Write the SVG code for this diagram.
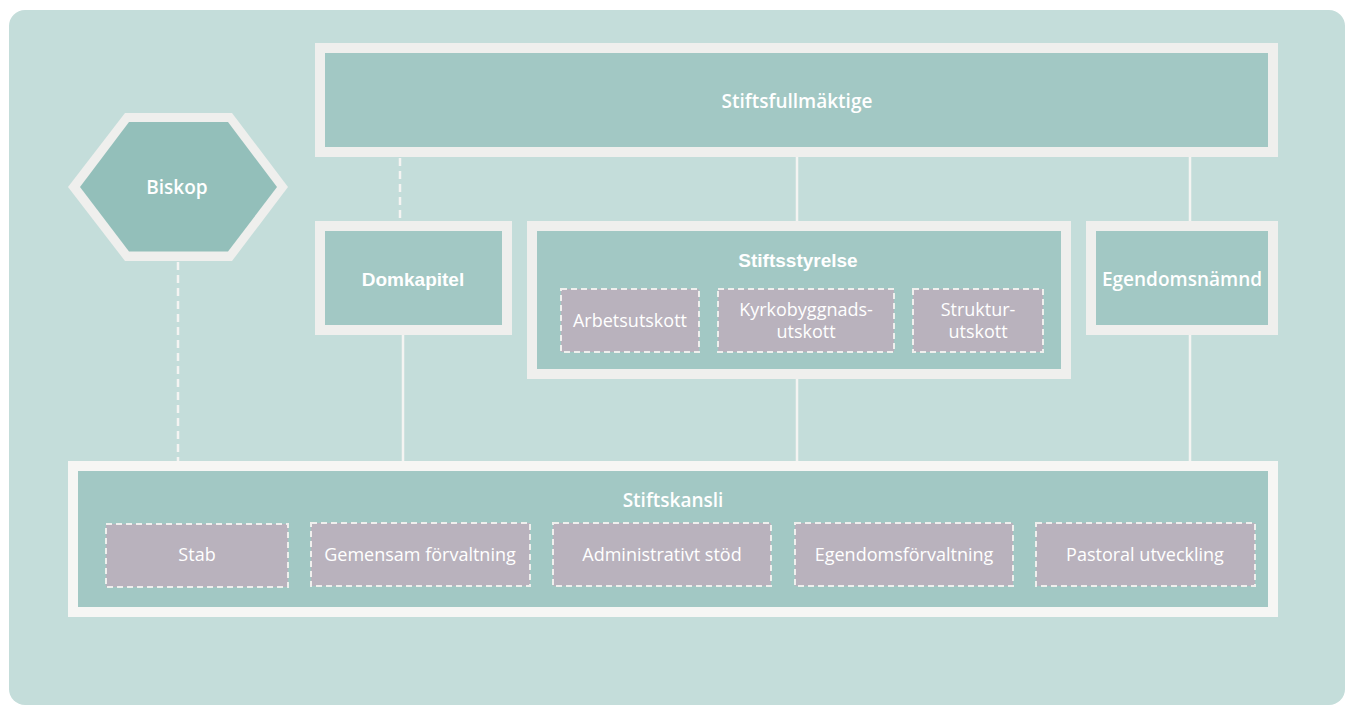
<svg xmlns="http://www.w3.org/2000/svg" width="1346" height="706" viewBox="0 0 1346 706">
  <style>
    .frame { fill: #a2c8c4; stroke: #efefed; stroke-width: 10; }
    .frame2 { fill: #a2c8c4; stroke: #f6f6f4; stroke-width: 10; }
    .unit { fill: #b9b2bd; stroke: #efefed; stroke-width: 2; stroke-dasharray: 6 4; }
    .title { font-family: "Open Sans", "Noto Sans", sans-serif; font-weight: 600; font-size: 19px; fill: #ffffff; text-anchor: middle; }
    .title-a { font-family: "Liberation Sans", Arial, sans-serif; font-weight: bold; font-size: 19px; fill: #ffffff; text-anchor: middle; }
    .label { font-family: "Open Sans", "Noto Sans", sans-serif; font-size: 18px; fill: #ffffff; text-anchor: middle; }
    .link { stroke: #f4f4f2; stroke-width: 2.5; fill: none; }
    .link-dash { stroke: #f4f4f2; stroke-width: 2.5; fill: none; stroke-dasharray: 8 5; }
  </style>

  <!-- background panel -->
  <rect x="9" y="10" width="1336" height="695" rx="16" fill="#c4ddda"/>

  <!-- connectors -->
  <g id="connectors">
    <line class="link-dash" x1="400" y1="158" x2="400" y2="221"/>
    <line class="link" x1="797" y1="157" x2="797" y2="221"/>
    <line class="link" x1="1190" y1="157" x2="1190" y2="221"/>
    <line class="link" x1="403" y1="335" x2="403" y2="461"/>
    <line class="link" x1="797" y1="379" x2="797" y2="461"/>
    <line class="link" x1="1190" y1="335" x2="1190" y2="461"/>
    <line class="link-dash" x1="178" y1="262" x2="178" y2="461"/>
  </g>

  <!-- Stiftsfullmäktige -->
  <g id="stiftsfullmaktige">
    <rect class="frame" x="320" y="48" width="953" height="104"/>
    <text class="title" x="797" y="108">Stiftsfullmäktige</text>
  </g>

  <!-- Biskop -->
  <g id="biskop">
    <polygon points="68,187 125,113 232,113 288,187 232,261 125,261" fill="#efefed"/>
    <polygon points="80,187 129,122 228,122 277,187 228,251.5 129,251.5" fill="#93bfba"/>
    <text class="title" x="177" y="194">Biskop</text>
  </g>

  <!-- Domkapitel -->
  <g id="domkapitel">
    <rect class="frame" x="320" y="226" width="187" height="104"/>
    <text class="title-a" x="413" y="286">Domkapitel</text>
  </g>

  <!-- Stiftsstyrelse -->
  <g id="stiftsstyrelse">
    <rect class="frame" x="532" y="226" width="534" height="148"/>
    <text class="title-a" x="798" y="267">Stiftsstyrelse</text>
  </g>
  <g id="arbetsutskott">
    <rect class="unit" x="561" y="289" width="138" height="63"/>
    <text class="label" x="630" y="327">Arbetsutskott</text>
  </g>
  <g id="kyrkobyggnadsutskott">
    <rect class="unit" x="718" y="289" width="176" height="63"/>
    <text class="label" x="806" y="316">Kyrkobyggnads-</text>
    <text class="label" x="806" y="338">utskott</text>
  </g>
  <g id="strukturutskott">
    <rect class="unit" x="913" y="289" width="130" height="63"/>
    <text class="label" x="978" y="316">Struktur-</text>
    <text class="label" x="978" y="338">utskott</text>
  </g>

  <!-- Egendomsnämnd -->
  <g id="egendomsnamnd">
    <rect class="frame" x="1091" y="226" width="182" height="104"/>
    <text class="title" x="1182" y="286">Egendomsnämnd</text>
  </g>

  <!-- Stiftskansli -->
  <g id="stiftskansli">
    <rect class="frame2" x="73" y="466" width="1200" height="146"/>
    <text class="title" x="673" y="507">Stiftskansli</text>
  </g>
  <g id="stab">
    <rect class="unit" x="106" y="524" width="182" height="63"/>
    <text class="label" x="197" y="561">Stab</text>
  </g>
  <g id="gemensam-forvaltning">
    <rect class="unit" x="311" y="523" width="219" height="63"/>
    <text class="label" x="420" y="561">Gemensam förvaltning</text>
  </g>
  <g id="administrativt-stod">
    <rect class="unit" x="553" y="523" width="218" height="63"/>
    <text class="label" x="662" y="561">Administrativt stöd</text>
  </g>
  <g id="egendomsforvaltning">
    <rect class="unit" x="795" y="523" width="218" height="63"/>
    <text class="label" x="904" y="561">Egendomsförvaltning</text>
  </g>
  <g id="pastoral-utveckling">
    <rect class="unit" x="1036" y="523" width="219" height="63"/>
    <text class="label" x="1145" y="561">Pastoral utveckling</text>
  </g>
</svg>
